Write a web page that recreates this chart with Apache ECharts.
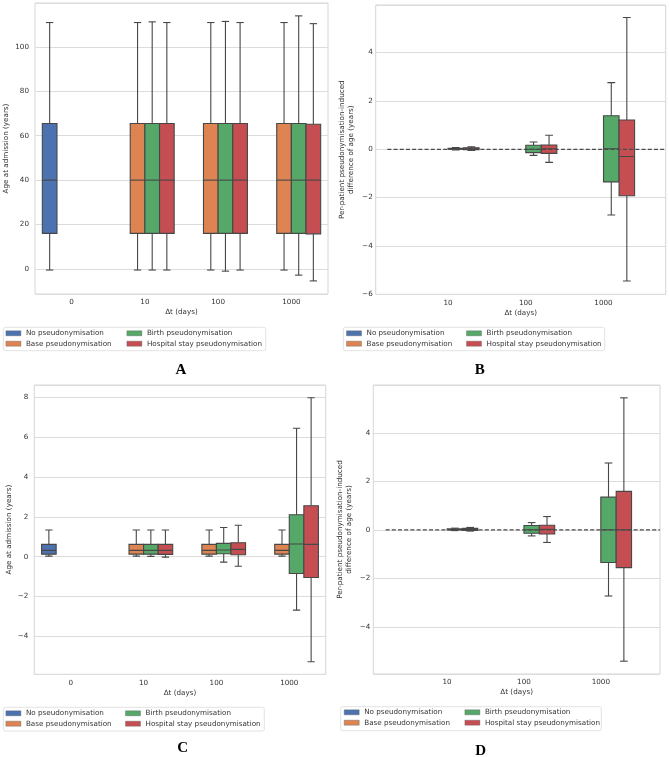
<!DOCTYPE html>
<html lang="en">
<head>
<meta charset="UTF-8">
<title>Age at admission under pseudonymisation</title>
<script src="https://cdn.jsdelivr.net/npm/echarts@6/dist/echarts.min.js"></script>
<style>
  html, body { margin: 0; padding: 0; background: #fff; }
  #chart { width: 669px; height: 757px; }
</style>
</head>
<body>
<div id="chart"></div>
<script>
// hue levels and their colours (seaborn "deep")
var hueNames = ['No pseudonymisation', 'Base pseudonymisation', 'Birth pseudonymisation', 'Hospital stay pseudonymisation'];
var hueColors = ['#4C72B0', '#DD8452', '#55A868', '#C44E52'];

// x tick labels
var catsAC = ['0', '10', '100', '1000'];
var catsBD = ['10', '100', '1000'];

// box rows: [category index, lower whisker, Q1, median, Q3, upper whisker]
var aNone  = [[0, -0.5, 16, 40, 65.5, 111]];
var aBase  = [[1, -0.5, 16, 40, 65.5, 111], [2, -0.5, 16, 40, 65.5, 111], [3, -0.5, 16, 40, 65.5, 111]];
var aBirth = [[1, -0.5, 16, 40, 65.5, 111.3], [2, -1.0, 16, 40, 65.5, 111.5], [3, -2.8, 16, 40, 65.5, 114]];
var aHosp  = [[1, -0.5, 16, 40, 65.5, 111], [2, -0.5, 16, 40, 65.5, 111], [3, -5.4, 15.8, 40, 65.2, 110.5]];

var bBirth = [[0, -0.03, 0.0, 0.02, 0.04, 0.07], [1, -0.25, -0.14, 0.0, 0.17, 0.30], [2, -2.72, -1.35, 0.02, 1.39, 2.76]];
var bHosp  = [[0, -0.05, -0.02, 0.02, 0.06, 0.1], [1, -0.54, -0.17, 0.02, 0.18, 0.58], [2, -5.45, -1.92, -0.30, 1.21, 5.45]];

var cNone  = [[0, 0.03, 0.13, 0.32, 0.62, 1.34]];
var cBase  = [[1, 0.03, 0.13, 0.32, 0.62, 1.34], [2, 0.03, 0.13, 0.32, 0.62, 1.34], [3, 0.03, 0.13, 0.32, 0.62, 1.34]];
var cBirth = [[1, 0.02, 0.13, 0.32, 0.62, 1.34], [2, -0.27, 0.15, 0.34, 0.67, 1.47], [3, -2.68, -0.84, 0.64, 2.11, 6.45]];
var cHosp  = [[1, -0.02, 0.12, 0.32, 0.62, 1.34], [2, -0.48, 0.10, 0.37, 0.70, 1.58], [3, -5.27, -1.04, 0.62, 2.56, 7.98]];

var dBirth = [[0, -0.03, 0.0, 0.02, 0.04, 0.07], [1, -0.25, -0.14, 0.0, 0.18, 0.30], [2, -2.73, -1.35, 0.0, 1.35, 2.76]];
var dHosp  = [[0, -0.05, -0.02, 0.02, 0.06, 0.1], [1, -0.52, -0.17, 0.02, 0.19, 0.55], [2, -5.42, -1.56, 0.0, 1.59, 5.45]];

// dashed zero reference line (x in category units)
var zeroB = [[-0.78, 0], [2.80, 0]];
var zeroD = [[-0.80, 0], [2.77, 0]];

var FONT = 'DejaVu Sans';
var TXT = '#333';
var EDGE = '#474747';

var panels = [
  { grid: { left: 35, top: 3, width: 293, height: 291 }, cats: catsAC, x: [-0.5, 3.5], y: [-11.3, 119.8], step: 20,
    yName: 'Age at admission (years)', nameGap: 24, labelMargin: 6, showMin: false,
    data: [aNone, aBase, aBirth, aHosp], zero: null,
    legendTop: 328.1, legendX: [5.7, 126.7], frame: [3.3, 327.3, 262.4, 23.4], letter: ['A', 181, 370] },
  { grid: { left: 375.7, top: 5, width: 290, height: 289.3 }, cats: catsBD, x: [-0.93, 2.80], y: [-6, 5.97], step: 2,
    yName: 'Per-patient pseudonymisation-induced\ndifference of age (years)', nameGap: 20, labelMargin: 3, showMin: true,
    data: [[], [], bBirth, bHosp], zero: zeroB,
    legendTop: 328.1, legendX: [346.3, 466.3], frame: [343.3, 327.3, 261.4, 23.4], letter: ['B', 479.7, 370] },
  { grid: { left: 34.3, top: 385, width: 291.4, height: 289.3 }, cats: catsAC, x: [-0.5, 3.5], y: [-5.9, 8.62], step: 2,
    yName: 'Age at admission (years)', nameGap: 20, labelMargin: 6, showMin: false,
    data: [cNone, cBase, cBirth, cHosp], zero: null,
    legendTop: 708.1, legendX: [5.7, 125.3], frame: [3.3, 707.3, 261, 23.7], letter: ['C', 182.7, 748.3] },
  { grid: { left: 373.3, top: 385, width: 286.7, height: 289 }, cats: catsBD, x: [-0.96, 2.77], y: [-5.95, 5.98], step: 2,
    yName: 'Per-patient pseudonymisation-induced\ndifference of age (years)', nameGap: 20, labelMargin: 3, showMin: false,
    data: [[], [], dBirth, dHosp], zero: zeroD,
    legendTop: 707.1, legendX: [344, 464.7], frame: [340.7, 706.7, 260.6, 24], letter: ['D', 480.7, 750.7] }
];

function edge() {
  return { stroke: EDGE, lineWidth: 1.1 };
}

// seaborn-like dodged box: 4 hues, each 0.2 of a category wide
function boxRenderer(hue) {
  var off = -0.3 + 0.2 * hue;
  return function (params, api) {
    var x = api.value(0) + off;
    var lo = api.value(1), q1 = api.value(2), med = api.value(3), q3 = api.value(4), hi = api.value(5);
    var tl = api.coord([x - 0.1, q3]);
    var br = api.coord([x + 0.1, q1]);
    var pHi = api.coord([x, hi]), pLo = api.coord([x, lo]), pMed = api.coord([x, med]);
    var capL = api.coord([x - 0.05, hi])[0], capR = api.coord([x + 0.05, hi])[0];
    return {
      type: 'group',
      children: [
        { type: 'line', shape: { x1: pHi[0], y1: pHi[1], x2: pHi[0], y2: tl[1] }, style: edge() },
        { type: 'line', shape: { x1: pLo[0], y1: br[1], x2: pLo[0], y2: pLo[1] }, style: edge() },
        { type: 'line', shape: { x1: capL, y1: pHi[1], x2: capR, y2: pHi[1] }, style: edge() },
        { type: 'line', shape: { x1: capL, y1: pLo[1], x2: capR, y2: pLo[1] }, style: edge() },
        { type: 'rect', shape: { x: tl[0], y: tl[1], width: br[0] - tl[0], height: br[1] - tl[1] },
          style: { fill: api.visual('color'), stroke: EDGE, lineWidth: 1.1 } },
        { type: 'line', shape: { x1: tl[0], y1: pMed[1], x2: br[0], y2: pMed[1] }, style: edge() }
      ]
    };
  };
}

function minus(v) {
  return v < 0 ? '\u2212' + Math.abs(v) : String(v);
}

var grids = [], xAxes = [], yAxes = [], series = [], legends = [], graphics = [];

panels.forEach(function (p, i) {
  grids.push(Object.assign({ show: true, borderColor: '#d6d6d6', borderWidth: 1, backgroundColor: '#fff' }, p.grid));

  var idx = p.cats.map(function (c, k) { return k; });
  xAxes.push({
    type: 'value', gridIndex: i, min: p.x[0], max: p.x[1],
    axisLine: { show: false }, splitLine: { show: false },
    axisTick: { show: false, customValues: idx },
    axisLabel: { customValues: idx, margin: 5, fontFamily: FONT, fontSize: 7.2, color: TXT,
      formatter: function (v) { return p.cats[Math.round(v)]; } },
    name: '\u0394t (days)', nameLocation: 'middle', nameGap: 15,
    nameTextStyle: { fontFamily: FONT, fontSize: 7.2, color: TXT }
  });

  yAxes.push({
    type: 'value', gridIndex: i, min: p.y[0], max: p.y[1], minInterval: p.step, maxInterval: p.step,
    axisLine: { show: false }, axisTick: { show: false },
    splitLine: { lineStyle: { color: '#dcdcdc', width: 1 } },
    axisLabel: { margin: p.labelMargin, fontFamily: FONT, fontSize: 7.2, color: TXT,
      showMinLabel: p.showMin, showMaxLabel: false, formatter: minus },
    name: p.yName, nameLocation: 'middle', nameGap: p.nameGap,
    nameTextStyle: { fontFamily: FONT, fontSize: 7.2, color: TXT, lineHeight: 9 }
  });

  p.data.forEach(function (rows, h) {
    series.push({
      name: hueNames[h], type: 'custom', xAxisIndex: i, yAxisIndex: i,
      itemStyle: { color: hueColors[h] },
      renderItem: boxRenderer(h), encode: { x: 0, y: [1, 2, 3, 4, 5] },
      clip: true, silent: true, data: rows
    });
  });

  if (p.zero) {
    series.push({
      type: 'line', xAxisIndex: i, yAxisIndex: i, data: p.zero, symbol: 'none', silent: true, z: 5,
      lineStyle: { color: '#4a4a4a', width: 1.2, type: [4, 2.2] }
    });
  }

  [[0, 1], [2, 3]].forEach(function (pair, col) {
    legends.push({
      orient: 'vertical', left: p.legendX[col], top: p.legendTop, padding: 0, itemGap: 0,
      itemWidth: 15, itemHeight: 5, icon: 'rect', selectedMode: false,
      itemStyle: { borderColor: '#666', borderWidth: 0.4 },
      textStyle: { fontFamily: FONT, fontSize: 7.2, color: TXT, lineHeight: 10.4 },
      data: pair.map(function (h) { return hueNames[h]; })
    });
  });

  graphics.push({
    type: 'rect', z: -1, shape: { x: p.frame[0], y: p.frame[1], width: p.frame[2], height: p.frame[3], r: 2 },
    style: { fill: '#fff', stroke: '#dadada', lineWidth: 0.8 }
  });
  graphics.push({
    type: 'text', x: p.letter[1], y: p.letter[2],
    style: { text: p.letter[0], font: 'bold 15px "Liberation Serif"', fill: '#000', align: 'center', verticalAlign: 'middle' }
  });
});

var chart = echarts.init(document.getElementById('chart'));
chart.setOption({
  animation: false,
  grid: grids,
  xAxis: xAxes,
  yAxis: yAxes,
  legend: legends,
  graphic: graphics,
  series: series
});
</script>
</body>
</html>
